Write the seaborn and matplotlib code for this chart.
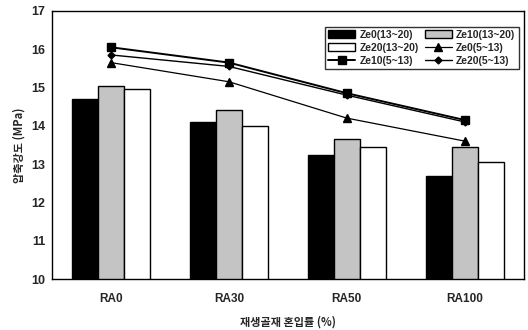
import numpy as np
import pandas as pd
import matplotlib
matplotlib.use("Agg")
import matplotlib.pyplot as plt
import seaborn as sns

categories = ["RA0", "RA30", "RA50", "RA100"]
bar_series = ["Ze0(13~20)", "Ze10(13~20)", "Ze20(13~20)"]
ze0_13_20 = [14.7, 14.1, 13.25, 12.7]
ze10_13_20 = [15.05, 14.4, 13.65, 13.45]
ze20_13_20 = [14.95, 14.0, 13.45, 13.05]
line_series = ["Ze0(5~13)", "Ze10(5~13)", "Ze20(5~13)"]
ze0_5_13 = [15.65, 15.15, 14.2, 13.6]
ze10_5_13 = [16.05, 15.65, 14.85, 14.15]
ze20_5_13 = [15.85, 15.55, 14.8, 14.1]
y_ticks = [10, 11, 12, 13, 14, 15, 16, 17]

sns.set_style("white")
plt.rcParams["font.family"] = ["Liberation Sans", "Noto Sans CJK KR", "DejaVu Sans"]

df = pd.DataFrame({
    "cat": categories * 3,
    "series": sum([[s] * len(categories) for s in bar_series], []),
    "val": ze0_13_20 + ze10_13_20 + ze20_13_20,
})

fig = plt.figure(figsize=(5.28, 3.30), dpi=100)
ax = fig.add_axes([0.0985, 0.1545, 0.8935, 0.8125])

sns.barplot(data=df, x="cat", y="val", hue="series", order=categories,
            hue_order=bar_series, palette=["black", "#c4c4c4", "white"],
            width=0.66, edgecolor="black", linewidth=1.0, ax=ax,
            legend=False, errorbar=None, saturation=1)

xs = np.arange(len(categories))
l0, = ax.plot(xs, ze0_5_13, color="black", lw=0.9, marker="^", ms=6, label=line_series[0])
l1, = ax.plot(xs, ze10_5_13, color="black", lw=1.4, marker="s", ms=5.5, label=line_series[1])
l2, = ax.plot(xs, ze20_5_13, color="black", lw=1.0, marker="D", ms=3.5, label=line_series[2])

ax.set_ylim(10, 17)
ax.set_yticks(y_ticks)
ax.set_xlim(-0.5, 3.5)
ax.set_xticks(xs)
ax.set_xticklabels(categories, fontsize=8.5, fontweight="bold")
ax.set_xticks(np.arange(0.5, len(categories) - 0.5, 1.0), minor=True)
ax.tick_params(axis="x", which="major", length=0, pad=10)
ax.tick_params(axis="x", which="minor", direction="in", length=3, width=0.8)
ax.tick_params(axis="y", direction="in", length=3, width=0.8, labelsize=9, pad=5)
for lab in ax.get_yticklabels():
    lab.set_fontweight("bold")

for sp in ax.spines.values():
    sp.set_color("black")
    sp.set_linewidth(1.0)

ax.set_xlabel("재생골재 혼입률 (%)", fontsize=8, fontweight="bold", labelpad=8,
              family=["Noto Sans CJK KR", "DejaVu Sans"])
ax.set_ylabel("압축강도 (MPa)", fontsize=8, fontweight="bold", labelpad=4,
              family=["Noto Sans CJK KR", "DejaVu Sans"])

bars = [c.patches[0] for c in ax.containers]
handles = [bars[0], bars[2], l1, bars[1], l0, l2]
labels = [bar_series[0], bar_series[2], line_series[1], bar_series[1], line_series[0], line_series[2]]
leg = ax.legend(handles, labels, ncol=2, loc="upper right", bbox_to_anchor=(1.0, 0.96),
                fancybox=False, edgecolor="black", frameon=True,
                handlelength=2.6, handleheight=0.8, columnspacing=0.6,
                handletextpad=0.4, labelspacing=0.3, borderpad=0.3,
                prop={"weight": "bold", "size": 7.5})
leg.get_frame().set_linewidth(1.0)

fig.savefig("out.png", dpi=100)
